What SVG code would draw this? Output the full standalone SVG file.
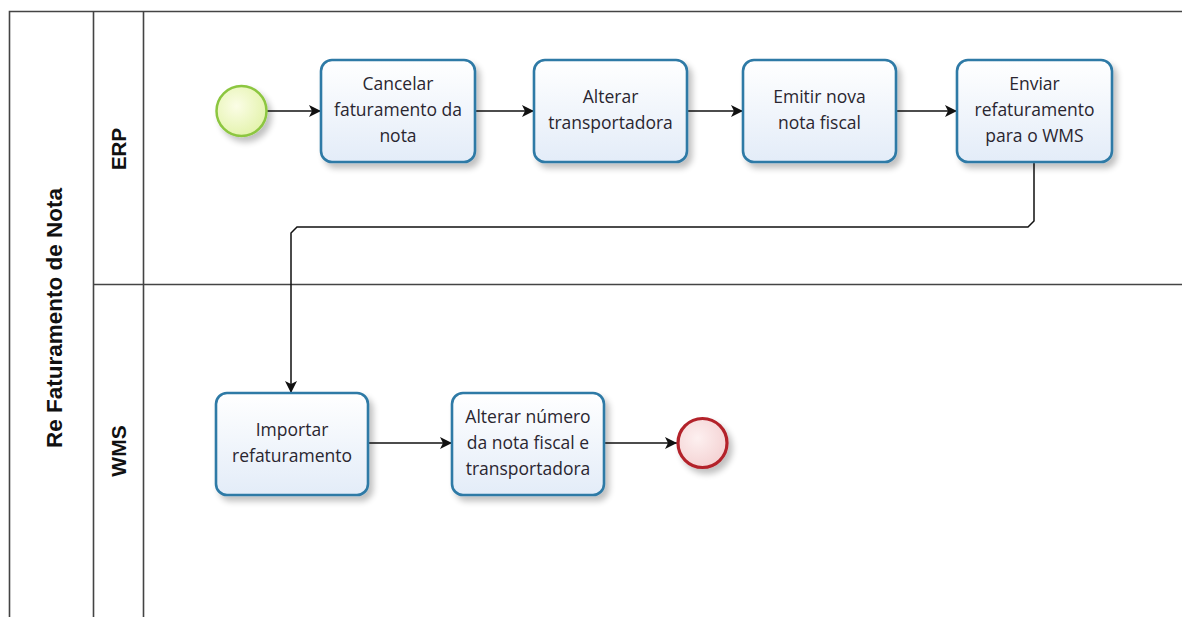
<svg xmlns="http://www.w3.org/2000/svg" width="1182" height="617" viewBox="0 0 1182 617">
<style>
.lane{fill:none;stroke:#444;stroke-width:1.6}
.task{fill:url(#tg);stroke:#2f7aa6;stroke-width:2.6;filter:url(#sh)}
.t{font-family:"Open Sans","Noto Sans",sans-serif;font-size:17.5px;fill:#2a2630;text-anchor:middle}
.lbl{font-family:"Liberation Sans",Arial,sans-serif;font-weight:bold;fill:#111;text-anchor:middle}
.c{fill:none;stroke:#111;stroke-width:1.5;marker-end:url(#ah)}
</style>
<defs>
<linearGradient id="tg" x1="0" y1="0" x2="0" y2="1">
<stop offset="0" stop-color="#ffffff"/><stop offset="1" stop-color="#e3ecf8"/>
</linearGradient>
<radialGradient id="sg" cx="0.4" cy="0.4" r="0.7">
<stop offset="0" stop-color="#fbfde6"/><stop offset="1" stop-color="#e1f2a6"/>
</radialGradient>
<radialGradient id="eg" cx="0.4" cy="0.4" r="0.7">
<stop offset="0" stop-color="#fdf0f0"/><stop offset="1" stop-color="#f3cfd0"/>
</radialGradient>
<filter id="sh" x="-20%" y="-20%" width="150%" height="160%">
<feGaussianBlur in="SourceAlpha" stdDeviation="3"/>
<feOffset dx="4" dy="5" result="b"/>
<feComponentTransfer><feFuncA type="linear" slope="0.25"/></feComponentTransfer>
<feMerge><feMergeNode/><feMergeNode in="SourceGraphic"/></feMerge>
</filter>
<marker id="ah" markerWidth="14" markerHeight="12" refX="12" refY="6" orient="auto" markerUnits="userSpaceOnUse">
<path d="M0,0 L12,6 L0,12 L3,6 Z" fill="#111"/>
</marker>
</defs>
<rect width="1182" height="617" fill="#fff"/>
<g id="pool">
<path class="lane" d="M1182,11.5 H9.5 V617 M93.5,11.5 V617 M143.5,11.5 V617 M93.5,284.5 H1182"/>
<text class="lbl" font-size="22.5" transform="translate(62,318) rotate(-90)">Re Faturamento de Nota</text>
<text class="lbl" font-size="20.5" transform="translate(126,149) rotate(-90)">ERP</text>
<text class="lbl" font-size="21" transform="translate(126,451) rotate(-90)">WMS</text>
</g>
<g id="connectors">
<path class="c" d="M267,111 H321"/>
<path class="c" d="M475,111 H534"/>
<path class="c" d="M687,111 H743"/>
<path class="c" d="M896,111 H957"/>
<path class="c" d="M1034,162 V221 L1028,227 H297 L291,233 V393"/>
<path class="c" d="M368,443 H452"/>
<path class="c" d="M604,443 H677"/>
</g>
<g id="start">
<circle cx="241.5" cy="111" r="25" fill="url(#sg)" stroke="#8cc63f" stroke-width="2.5" filter="url(#sh)"/>
</g>
<g id="t1">
<rect class="task" x="321" y="60" width="154" height="102" rx="11"/>
<text class="t" x="398" y="90">Cancelar</text>
<text class="t" x="398" y="116">faturamento da</text>
<text class="t" x="398" y="142">nota</text>
</g>
<g id="t2">
<rect class="task" x="534" y="60" width="153" height="102" rx="11"/>
<text class="t" x="610.5" y="103">Alterar</text>
<text class="t" x="610.5" y="129">transportadora</text>
</g>
<g id="t3">
<rect class="task" x="743" y="60" width="153" height="102" rx="11"/>
<text class="t" x="819.5" y="103">Emitir nova</text>
<text class="t" x="819.5" y="129">nota fiscal</text>
</g>
<g id="t4">
<rect class="task" x="957" y="60" width="155" height="102" rx="11"/>
<text class="t" x="1034.5" y="90">Enviar</text>
<text class="t" x="1034.5" y="116">refaturamento</text>
<text class="t" x="1034.5" y="142">para o WMS</text>
</g>
<g id="t5">
<rect class="task" x="216" y="393" width="152" height="102" rx="11"/>
<text class="t" x="292" y="436">Importar</text>
<text class="t" x="292" y="462">refaturamento</text>
</g>
<g id="t6">
<rect class="task" x="452" y="393" width="152" height="102" rx="11"/>
<text class="t" x="528" y="423">Alterar número</text>
<text class="t" x="528" y="449">da nota fiscal e</text>
<text class="t" x="528" y="475">transportadora</text>
</g>
<g id="end">
<circle cx="702.5" cy="443" r="24.5" fill="url(#eg)" stroke="#b3232a" stroke-width="3.2" filter="url(#sh)"/>
</g>
</svg>
